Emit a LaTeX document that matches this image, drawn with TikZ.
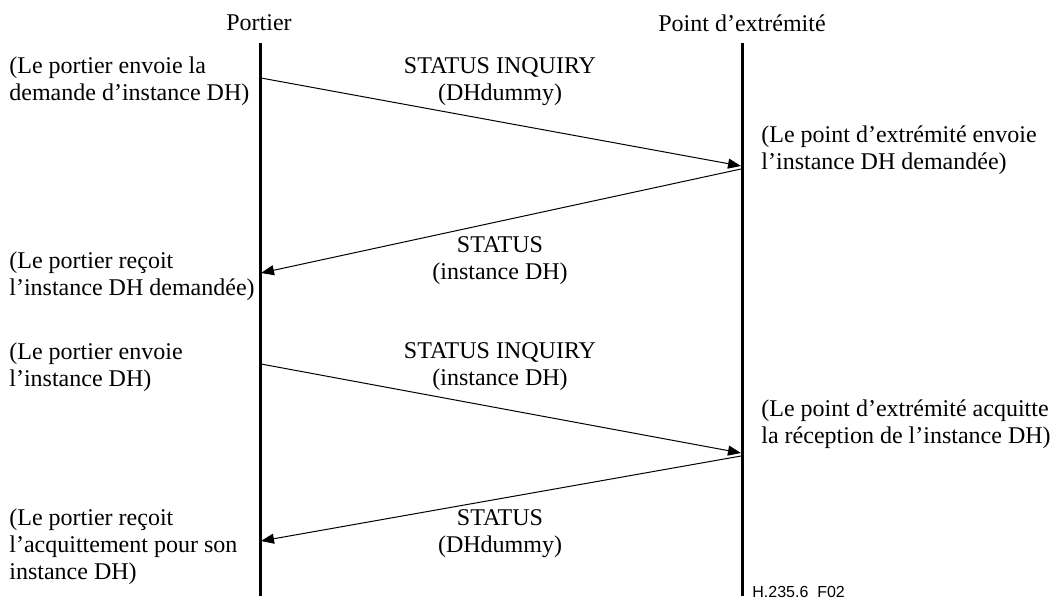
\documentclass[tikz,border=0pt]{standalone}
\usepackage{fontspec}
\setmainfont{Liberation Serif}
\newfontfamily\figfont{Liberation Sans}
\usetikzlibrary{arrows.meta}
\begin{document}
\begin{tikzpicture}[x=0.5pt,y=-0.5pt,
    every node/.style={font=\fontsize{12}{13.5}\selectfont},
    life/.style={line width=1.5pt},
    msg/.style={line width=0.5pt,-{Triangle[length=6.5pt,width=5pt]}},
    note/.style={anchor=west,align=left,inner sep=0pt},
    lbl/.style={align=center,inner sep=0pt}]
  \useasboundingbox (0,0) rectangle (1053,599);
  \draw
    (259,23) node (P){Portier}
    (742,23) node (E){Point d’extrémité};
  \coordinate (P0) at (260,43);
  \coordinate (P1) at (260,596);
  \coordinate (E0) at (742,43);
  \coordinate (E1) at (742,596);
  \draw[life] (P0) -- (P1);
  \draw[life] (E0) -- (E1);
  % message end points
  \coordinate (a1) at (261,78);  \coordinate (b1) at (741,166);
  \coordinate (b2) at (741,169); \coordinate (a2) at (261,273);
  \coordinate (a3) at (261,364); \coordinate (b3) at (741,453);
  \coordinate (b4) at (741,456); \coordinate (a4) at (261,541);
  \begin{scope}[msg]
    \draw (a1) to (b1);
    \draw (b2) to (a2);
    \draw (a3) to (b3);
    \draw (b4) to (a4);
  \end{scope}
  \draw
    (500,82) node[lbl] (m1){STATUS INQUIRY\\(DHdummy)}
    (500,261) node[lbl] (m2){STATUS\\(instance DH)}
    (500,367) node[lbl] (m3){STATUS INQUIRY\\(instance DH)}
    (500,534) node[lbl] (m4){STATUS\\(DHdummy)};
  \draw
    (9,81) node[note] (n1){(Le portier envoie la\\demande d’instance DH)}
    (761,150) node[note] (n2){(Le point d’extrémité envoie\\l’instance DH demandée)}
    (9,276) node[note] (n3){(Le portier reçoit\\l’instance DH demandée)}
    (9,367) node[note] (n4){(Le portier envoie\\l’instance DH)}
    (761,424) node[note] (n5){(Le point d’extrémité acquitte\\la réception de l’instance DH)}
    (9,547) node[note] (n6){(Le portier reçoit\\l’acquittement pour son\\instance DH)};
  \node[note,font=\figfont\fontsize{8}{9}\selectfont] (fig) at (752,592) {H.235.6\ \ F02};
\end{tikzpicture}
\end{document}
